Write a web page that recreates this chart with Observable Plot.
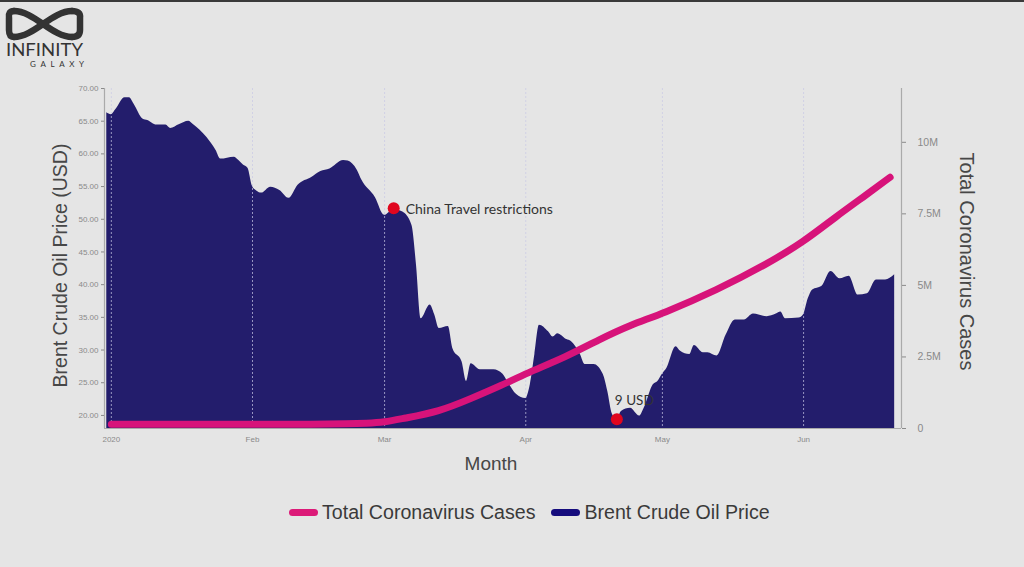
<!DOCTYPE html>
<html>
<head>
<meta charset="utf-8">
<script src="https://cdn.jsdelivr.net/npm/d3@7"></script>
<script src="https://cdn.jsdelivr.net/npm/@observablehq/plot@0.6"></script>
<style>
  html, body { margin: 0; padding: 0; background: #e5e5e5; }
  body { width: 1024px; height: 567px; overflow: hidden; position: relative; border-top: 2px solid #3a3a3a; box-sizing: border-box; font-family: "Liberation Sans", Arial, sans-serif; }
  #chart { position: absolute; left: 0; top: -2px; }
  #logo { position: absolute; left: 0; top: -2px; width: 95px; height: 70px; }
  #legend { position: absolute; left: 289px; top: 499px; display: flex; align-items: center; font-size: 19.6px; color: #3a3a3a; }
  .sw { width: 29px; height: 7px; border-radius: 4px; margin-right: 4px; }
  .item { display: flex; align-items: center; margin-right: 16px; }
</style>
</head>
<body>
<div id="chart"></div>
<svg id="logo" viewBox="0 0 95 70">
  <g fill="none" stroke="#333" stroke-width="6.5" stroke-linecap="round" stroke-linejoin="round">
    <path d="M14,11 C34,11 52,37 72,37"/>
    <path d="M14,37 C34,37 52,11 72,11"/>
    <path d="M14,11 Q8,11 9,18 L9,30 Q9,37 14,37"/>
    <path d="M72,11 Q81,11 80,18 L80,30 Q80,37 72,37"/>
  </g>
  <text x="6" y="56" textLength="77" lengthAdjust="spacingAndGlyphs" font-family="Lato, 'Open Sans', sans-serif" font-size="18" fill="#333">INFINITY</text>
  <text x="30" y="67" textLength="54" font-family="Lato, 'Open Sans', sans-serif" font-size="8" fill="#333">GALAXY</text>
</svg>
<div id="legend">
  <div class="item"><div class="sw" style="background:#dc1a78"></div><span>Total Coronavirus Cases</span></div>
  <div class="item"><div class="sw" style="background:#150c7d"></div><span>Brent Crude Oil Price</span></div>
</div>
<script>
// ---- Data ----
const oilDates = ["2019-12-31","2020-01-01","2020-01-02","2020-01-04","2020-01-05","2020-01-06","2020-01-08","2020-01-09","2020-01-11","2020-01-13","2020-01-14","2020-01-16","2020-01-18","2020-01-19","2020-01-22","2020-01-24","2020-01-25","2020-01-28","2020-01-29","2020-01-30","2020-01-31",
"2020-02-01","2020-02-02","2020-02-03","2020-02-05","2020-02-07","2020-02-09","2020-02-11","2020-02-14","2020-02-16","2020-02-18","2020-02-21","2020-02-22","2020-02-24","2020-02-25","2020-02-28",
"2020-03-01","2020-03-03","2020-03-05","2020-03-07","2020-03-08","2020-03-09","2020-03-11","2020-03-12","2020-03-13","2020-03-15","2020-03-16","2020-03-18","2020-03-19","2020-03-20","2020-03-22","2020-03-25","2020-03-27","2020-03-28","2020-03-30",
"2020-04-01","2020-04-02","2020-04-03","2020-04-04","2020-04-06","2020-04-07","2020-04-08","2020-04-10","2020-04-11","2020-04-13","2020-04-14","2020-04-16","2020-04-18","2020-04-19","2020-04-20","2020-04-21","2020-04-22","2020-04-24","2020-04-26","2020-04-27","2020-04-29","2020-04-30",
"2020-05-01","2020-05-02","2020-05-04","2020-05-05","2020-05-07","2020-05-08","2020-05-10","2020-05-11","2020-05-13","2020-05-15","2020-05-17","2020-05-19","2020-05-21","2020-05-24","2020-05-26","2020-05-27","2020-05-28","2020-05-31",
"2020-06-01","2020-06-02","2020-06-03","2020-06-05","2020-06-07","2020-06-09","2020-06-11","2020-06-13","2020-06-15","2020-06-17","2020-06-19","2020-06-21"];
const oilPrices = [66.3,66.0,66.8,68.6,68.6,67.6,65.3,65.1,64.4,64.4,63.9,64.5,65.0,64.5,62.5,60.5,59.2,59.5,59.0,58.3,57.8,
55.0,54.3,54.0,54.9,54.4,53.2,55.2,56.4,57.3,57.7,59.0,58.9,57.5,56.0,53.3,
50.6,51.5,51.1,49.1,43.0,34.8,36.9,35.4,33.3,33.6,30.2,28.2,25.2,27.9,27.0,27.0,26.3,25.2,23.2,
22.6,24.7,29.3,33.8,32.8,32.0,32.5,31.6,31.3,29.3,27.8,27.8,26.3,23.7,20.2,19.3,20.6,21.1,19.9,21.1,24.7,25.2,
26.3,27.2,30.5,29.8,29.3,30.7,29.6,29.6,29.1,32.3,34.6,34.6,35.5,35.1,35.5,35.8,34.8,34.9,
35.4,37.8,39.2,39.7,42.0,40.9,41.3,38.4,38.6,40.7,40.7,41.5];

const caseDates = ["2020-01-01","2020-01-15","2020-02-01","2020-02-15","2020-02-22","2020-02-26","2020-03-01","2020-03-05","2020-03-13","2020-03-20","2020-03-27","2020-04-01","2020-04-10","2020-04-17","2020-04-24","2020-05-01","2020-05-13","2020-05-24","2020-06-01","2020-06-08","2020-06-15","2020-06-20"];
const caseCounts = [150000,150000,150000,150000,160000,180000,220000,350000,590000,1050000,1530000,1920000,2510000,3100000,3620000,4010000,4840000,5750000,6520000,7390000,8190000,8780000];

const eventDates = ["2020-03-03","2020-04-21"];
const eventPrices = [51.7,19.4];
const eventLabels = ["China Travel restrictions","9 USD"];

const oilTicks = [20,25,30,35,40,45,50,55,60,65,70];
const caseTicks = [0,2500000,5000000,7500000,10000000];
const caseTickLabels = ["0","2.5M","5M","7.5M","10M"];
const monthTicks = ["2020-01-01","2020-02-01","2020-03-01","2020-04-01","2020-05-01","2020-06-01"];
const monthLabels = ["2020","Feb","Mar","Apr","May","Jun"];

const oilDomain = [18, 70];
const caseMax = 11880000;
const xDomain = ["2019-12-30T12:00Z","2020-06-22T12:00Z"];

// ---- Build ----
const oil = oilDates.map((d,i) => ({date: new Date(d), price: oilPrices[i]}));
const toOil = c => oilDomain[0] + c / caseMax * (oilDomain[1] - oilDomain[0]);
const cases = caseDates.map((d,i) => ({date: new Date(d), v: toOil(caseCounts[i])}));
const events = eventDates.map((d,i) => ({date: new Date(d), price: eventPrices[i], label: eventLabels[i]}));
const mTicks = monthTicks.map(d => new Date(d));
const caseTickPos = caseTicks.map(toOil);
const annFont = "Lato, 'Open Sans', sans-serif";

const chart = Plot.plot({
  width: 1024,
  height: 482,
  marginTop: 88,
  marginBottom: 54,
  marginLeft: 104,
  marginRight: 123,
  style: {background: "transparent", fontFamily: "'Liberation Sans', Arial, sans-serif"},
  x: {type: "utc", domain: xDomain.map(d => new Date(d))},
  y: {domain: oilDomain},
  marks: [
    Plot.areaY(oil, {x: "date", y1: oilDomain[0], y2: "price", fill: "#231d6c", curve: "monotone-x"}),
    Plot.gridX(mTicks, {stroke: "#c9c9e6", strokeOpacity: 0.7, strokeDasharray: "2,2"}),
    Plot.ruleX([new Date(xDomain[0]), new Date(xDomain[1])], {stroke: "#aaa", strokeWidth: 1.2}),
    Plot.ruleY([oilDomain[0]], {stroke: "#aaa"}),
    Plot.lineY(cases, {x: "date", y: "v", stroke: "#d7137a", strokeWidth: 7, strokeLinecap: "round", curve: "basis"}),
    Plot.axisY(oilTicks, {anchor: "left", tickSize: 3, tickPadding: 3, fontSize: 8, color: "#8a8a8a", tickFormat: d => d.toFixed(2), label: null}),
    Plot.axisY(caseTickPos, {anchor: "right", tickSize: 4, tickPadding: 12, fontSize: 10.5, color: "#8a8a8a",
      tickFormat: v => caseTickLabels[caseTickPos.findIndex(p => Math.abs(p - v) < 1e-6)], label: null}),
    Plot.axisX(mTicks, {tickSize: 0, tickPadding: 8, fontSize: 8, color: "#8a8a8a",
      tickFormat: d => monthLabels[mTicks.findIndex(m => m.getTime() === d.getTime())], label: null}),
    Plot.text(["Brent Crude Oil Price (USD)"], {text: d => d, frameAnchor: "left", textAnchor: "middle", rotate: -90, dx: -44, dy: 7, fontSize: 19.5, fill: "#474747"}),
    Plot.text(["Total Coronavirus Cases"], {text: d => d, frameAnchor: "right", textAnchor: "middle", rotate: 90, dx: 65, dy: 3, fontSize: 20, fill: "#474747"}),
    Plot.text(["Month"], {text: d => d, frameAnchor: "bottom", textAnchor: "middle", dx: -12, dy: 41, fontSize: 19, fill: "#474747"}),
    Plot.dot(events, {x: "date", y: "price", r: 6, fill: "#e0061e"}),
    Plot.text(events.slice(0,1), {x: "date", y: "price", text: "label", textAnchor: "start", dx: 12, dy: 1, fontSize: 14, fill: "#333", fontFamily: annFont}),
    Plot.text(events.slice(1), {x: "date", y: "price", text: "label", textAnchor: "start", dx: -2, dy: -19, fontSize: 13.5, fill: "#333", fontFamily: annFont})
  ]
});
document.getElementById("chart").appendChild(chart);
</script>
</body>
</html>
